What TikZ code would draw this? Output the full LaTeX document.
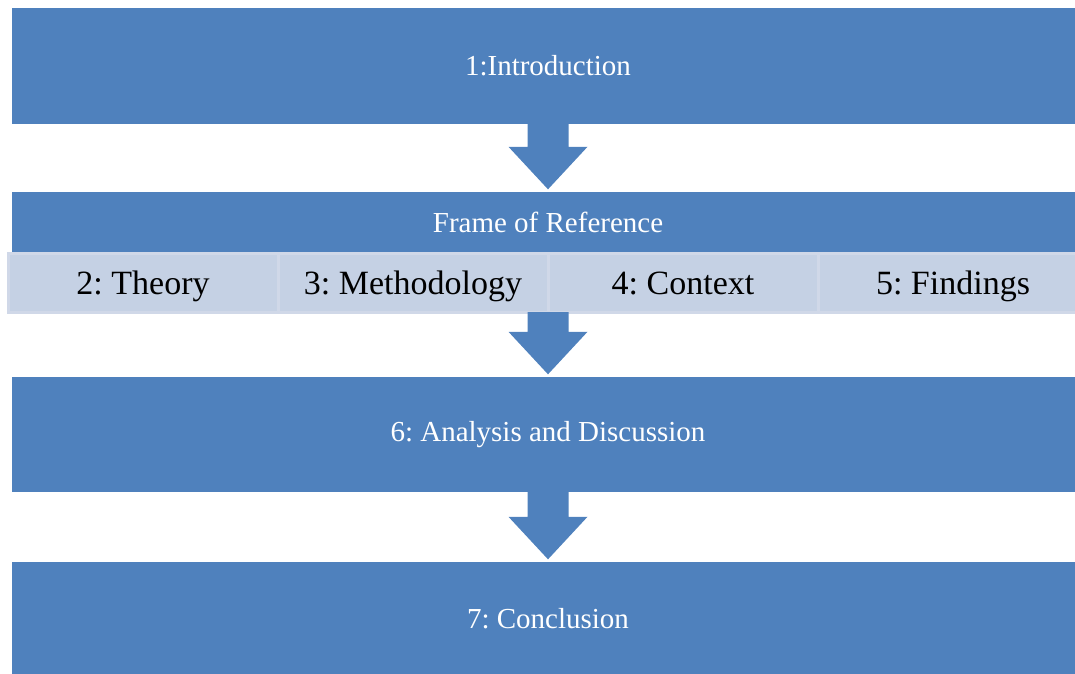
\documentclass[tikz,border=0pt]{standalone}
\usepackage{fontspec}
\setmainfont{Liberation Serif}
\frenchspacing
\usetikzlibrary{calc}
\definecolor{blk}{HTML}{4F81BD}
\definecolor{subfill}{HTML}{C5D1E4}
\definecolor{subline}{HTML}{D0D8E8}
\newcommand\blockarrow[2]{%
  \fill[blockarrow] ($(#1)+(-20.5,-1)$) -- ($(#1)+(20.5,-1)$)
    -- ($(#2)+(20.5,-45)$) -- ($(#2)+(39.5,-45)$) -- ($(#2)+(0,-2.5)$)
    -- ($(#2)+(-39.5,-45)$) -- ($(#2)+(-20.5,-45)$) -- cycle;}
\begin{document}
\begin{tikzpicture}[x=1pt,y=-1pt,
  bigbox/.style={fill=blk, draw=none, inner sep=0pt, minimum width=1072pt,
    text=white, font=\frenchspacing\fontsize{29}{34}\selectfont},
  subbox/.style={fill=subfill, draw=subline, line width=3pt, inner sep=0pt,
    minimum width=270pt, minimum height=59pt, text height=27pt, text depth=4pt,
    font=\frenchspacing\fontsize{34}{40}\selectfont},
  blockarrow/.style={fill=blk}]
\useasboundingbox (0,0) rectangle (1075,673);
\clip (0,0) rectangle (1075,673);
\node[bigbox, minimum height=116pt] (intro) at (548,66) {1:Introduction};
\node[bigbox, minimum height=61pt] (frame) at (548,222.5) {Frame of Reference};
\node[subbox] (theory) at (143,282.5) {2: Theory};
\node[subbox] (method) at (413,282.5) {3: Methodology};
\node[subbox] (context) at (683,282.5) {4: Context};
\node[subbox] (findings) at (953,282.5) {5: Findings};
\coordinate (row) at (548,313);
\node[bigbox, minimum height=115pt] (analysis) at (548,434.5) {6: Analysis and Discussion};
\node[bigbox, minimum height=114pt] (concl) at (548,619) {7: Conclusion};
\blockarrow{intro.south}{frame.north}
\blockarrow{row}{analysis.north}
\blockarrow{analysis.south}{concl.north}
\end{tikzpicture}
\end{document}
